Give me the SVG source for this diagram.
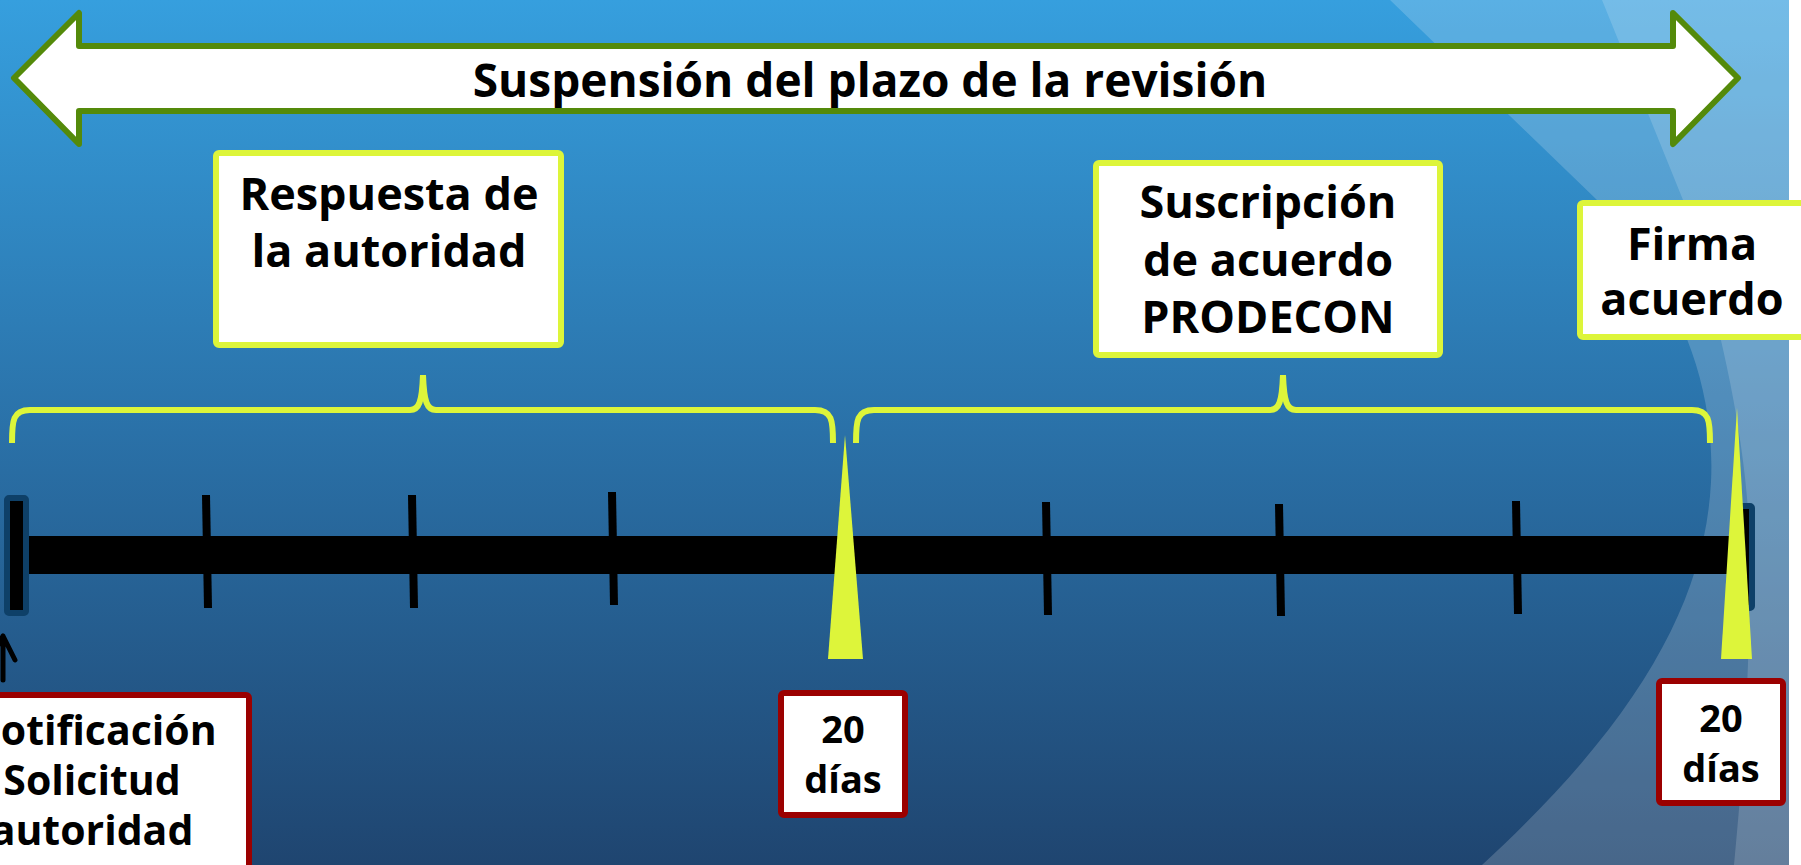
<svg xmlns="http://www.w3.org/2000/svg" width="1801" height="865" viewBox="0 0 1801 865">
<defs>
<linearGradient id="bg" x1="0" y1="0" x2="0" y2="1">
<stop offset="0" stop-color="#369FDE"/>
<stop offset="0.5" stop-color="#2A71A8"/>
<stop offset="1" stop-color="#1F4570"/>
</linearGradient>
<style>
.t{font-family:"Open Sans","Liberation Sans",sans-serif;font-weight:bold;fill:#000;text-anchor:middle}
.yb{fill:#fff;stroke:#DDF53A;stroke-width:6}
.rb{fill:#fff;stroke:#9B0000;stroke-width:6}
.br{fill:none;stroke:#DDF53A;stroke-width:6;stroke-linecap:butt}
.tick{stroke:#000;stroke-width:8}
.tri{fill:#DDF53A}
</style>
</defs>
<rect x="0" y="0" width="1801" height="865" fill="url(#bg)"/>
<path d="M1390,0 L1597,200 C1690,300 1715,400 1711,482 C1705,600 1640,720 1482,865 L1801,865 L1801,0 Z" fill="#fff" fill-opacity="0.18"/>
<path d="M1602,0 L1683,200 C1720,320 1750,450 1750,560 C1750,680 1742,780 1734,865 L1801,865 L1801,0 Z" fill="#fff" fill-opacity="0.16"/>
<rect x="1789" y="0" width="12" height="865" fill="#fff"/>

<g id="title-arrow">
<polygon points="14,78 79,13 79,46 1673,46 1673,13 1738,78 1673,144 1673,111 79,111 79,144" fill="#fff" stroke="#548A0A" stroke-width="6" stroke-linejoin="round"/>
<text class="t" x="870" y="97" font-size="46">Suspensión del plazo de la revisión</text>
</g>

<g id="timeline">
<rect x="28" y="536" width="1708" height="38" fill="#000"/>
<rect x="7" y="498" width="19" height="115" rx="2" fill="#000" stroke="#0E4068" stroke-width="6"/>
<rect x="1737" y="506" width="15" height="102" rx="2" fill="#000" stroke="#0E4068" stroke-width="6"/>
<line class="tick" x1="206" y1="495" x2="208" y2="608"/>
<line class="tick" x1="412" y1="495" x2="414" y2="608"/>
<line class="tick" x1="612" y1="492" x2="614" y2="605"/>
<line class="tick" x1="1046" y1="502" x2="1048" y2="615"/>
<line class="tick" x1="1279" y1="504" x2="1281" y2="616"/>
<line class="tick" x1="1516" y1="501" x2="1518" y2="614"/>
</g>

<g id="marker-1"><polygon class="tri" points="845,435 863,659 828,659"/></g>
<g id="marker-2"><polygon class="tri" points="1737,408 1752,659 1721,659"/></g>

<g id="connectors">
<path class="br" d="M12,443 C12,420 13,410 30,410 L410,410 C419,410 422,402 423,375"/>
<path class="br" d="M833,443 C833,420 832,410 815,410 L436,410 C427,410 424,402 423,375"/>
<path class="br" d="M856,443 C856,420 857,410 874,410 L1270,410 C1279,410 1282,402 1283,375"/>
<path class="br" d="M1710,443 C1710,420 1709,410 1692,410 L1296,410 C1287,410 1284,402 1283,375"/>
<path d="M3,680 L3,636 M-10,660 L3,636 L15,660" fill="none" stroke="#000" stroke-width="5" stroke-linecap="round" stroke-linejoin="round"/>
</g>

<g id="respuesta">
<rect class="yb" x="216" y="153" width="345" height="192" rx="3"/>
<text class="t" x="389" y="210" font-size="45">Respuesta de</text>
<text class="t" x="389" y="267" font-size="45">la autoridad</text>
</g>

<g id="suscripcion">
<rect class="yb" x="1096" y="163" width="344" height="192" rx="3"/>
<text class="t" x="1268" y="218" font-size="45">Suscripción</text>
<text class="t" x="1268" y="276" font-size="45">de acuerdo</text>
<text class="t" x="1268" y="333" font-size="45">PRODECON</text>
</g>

<g id="firma">
<rect class="yb" x="1580" y="203" width="232" height="134" rx="3"/>
<text class="t" x="1692" y="260" font-size="45">Firma</text>
<text class="t" x="1692" y="315" font-size="45">acuerdo</text>
</g>

<g id="notificacion">
<rect class="rb" x="-70" y="695" width="319" height="200" rx="3"/>
<text class="t" x="92" y="745" font-size="41">Notificación</text>
<text class="t" x="92" y="795" font-size="41">Solicitud</text>
<text class="t" x="92" y="845" font-size="41">autoridad</text>
</g>

<g id="dias-1">
<rect class="rb" x="781" y="693" width="124" height="122" rx="3"/>
<text class="t" x="843" y="743" font-size="38">20</text>
<text class="t" x="843" y="793" font-size="38">días</text>
</g>

<g id="dias-2">
<rect class="rb" x="1659" y="681" width="124" height="122" rx="3"/>
<text class="t" x="1721" y="732" font-size="38">20</text>
<text class="t" x="1721" y="782" font-size="38">días</text>
</g>
</svg>
